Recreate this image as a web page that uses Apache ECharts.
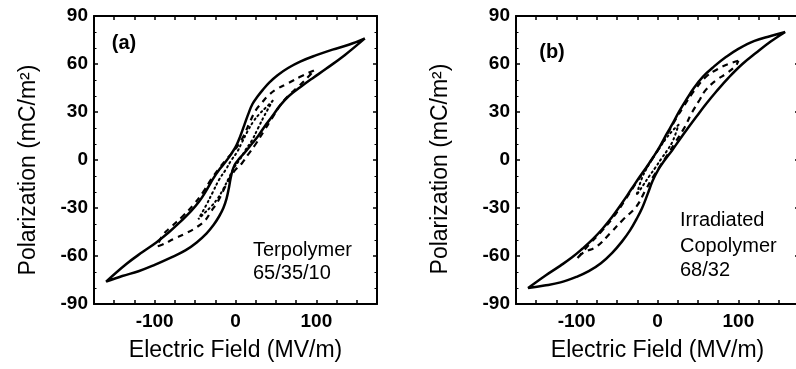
<!DOCTYPE html>
<html>
<head>
<meta charset="utf-8">
<script src="https://cdn.jsdelivr.net/npm/echarts@6/dist/echarts.min.js"></script>
<style>
html,body{margin:0;padding:0;background:#fff;}
#c{width:796px;height:369px;}
</style>
</head>
<body>
<div id="c"></div>
<script>
// ---------- data (Electric Field MV/m, Polarization mC/m^2) ----------
// Panel (a) Terpolymer 65/35/10
var aSolidDown = [[160,76],[140,72],[120,69],[100,65.5],[80,61.5],[65,57.5],[52,53],[42,48.5],[34,44],[27,39.5],[21,35],[16,29],[11,22],[6,15],[1,9],[-5,4],[-12,-1],[-20,-6],[-28,-12],[-36,-19],[-45,-26],[-55,-32],[-68,-38.5],[-82,-45],[-98,-51.5],[-115,-57.5],[-135,-65],[-160,-76]];
var aSolidUp = [[-160,-76],[-140,-72.5],[-120,-69.5],[-100,-65.5],[-80,-61],[-62,-56.5],[-48,-51.5],[-36,-46],[-27,-40.5],[-20,-35],[-15,-30],[-11,-24],[-8,-17],[-5,-9],[-1,-3],[5,1],[12,5],[20,10],[28,15],[36,21],[45,27],[55,34],[66,40],[80,45.5],[95,51],[112,57],[135,65.5],[160,76]];
var aDashDown = [[97,56],[80,52],[65,48],[50,44],[40,40],[33,36],[25,31],[18,24],[10,15],[3,9],[-5,4],[-12,0],[-20,-5],[-30,-12],[-40,-20],[-52,-28],[-65,-35],[-80,-42],[-90,-47],[-97,-54]];
var aDashUp = [[-97,-54],[-91,-53],[-75,-49],[-60,-45.5],[-48,-42],[-38,-38],[-30,-32],[-22,-26],[-15,-19],[-8,-12],[0,-6],[8,-2],[15,3],[25,10],[35,18],[45,26],[55,34],[65,40],[78,46],[90,52],[97,56]];
var aDotDown = [[46,37],[38,33],[30,29],[22,24],[15,18],[8,11],[2,5],[-5,0],[-12,-6],[-20,-12],[-28,-20],[-36,-28],[-46,-37]];
var aDotUp = [[-46,-37],[-38,-33],[-30,-29],[-22,-24],[-15,-18],[-8,-11],[-2,-5],[5,0],[12,6],[20,12],[28,20],[36,28],[46,37]];

// Panel (b) Irradiated Copolymer 68/32
var bSolidDown = [[158,80],[140,77.5],[120,74.5],[100,69.5],[85,64.5],[70,58.5],[56,52],[45,45],[36,38],[27,30.5],[19,23],[11,16],[3,8.5],[-5,2],[-13,-4],[-22,-10.5],[-32,-18],[-44,-27],[-56,-35.5],[-68,-43],[-80,-49.5],[-93,-55.5],[-106,-61],[-120,-66],[-138,-72],[-160,-80]];
var bSolidUp = [[-160,-80],[-140,-78.5],[-120,-76.5],[-100,-73],[-85,-69.5],[-70,-64.5],[-56,-58],[-44,-51],[-34,-44],[-26,-37],[-19,-30],[-12,-21],[-6,-13],[1,-6],[9,0],[18,6],[27,12.5],[37,19.5],[48,27],[60,35],[73,43],[88,51.5],[105,60],[122,67],[140,74],[158,80]];
var bDashDown = [[100,62],[88,60],[75,57],[60,52],[45,43],[33,34],[22,25],[12,16],[3,8],[-6,1],[-15,-6],[-26,-14],[-40,-25],[-55,-36],[-70,-45],[-85,-53],[-100,-62]];
var bDashUp = [[-100,-62],[-92,-58],[-75,-54],[-59,-46],[-43,-37.5],[-26,-29],[-15,-19],[-6,-11],[3,-4],[12,3],[22,11],[33,20],[43,30],[52,37.5],[60,44],[73,50],[85,54],[97,59],[100,62]];
var bDotDown = [[26,22],[18,18],[10,13],[3,8],[-5,2],[-12,-4],[-19,-11],[-26,-22]];
var bDotUp = [[-26,-22],[-18,-16],[-10,-10],[-3,-5],[5,1],[12,6],[19,12],[26,22]];

var xTicks = {min:-175, max:175, step:25, labelEvery:100};
var yTicks = {min:-90, max:90, step:30};
var xTitle = 'Electric Field (MV/m)';
var yTitle = 'Polarization (mC/m\u00B2)';
var panelLabels = ['(a)', '(b)'];
var noteA = ['Terpolymer', '65/35/10'];
var noteB = ['Irradiated', 'Copolymer', '68/32'];
// ---------------------------------------------------------------

function loop(down, up){ return down.concat(up.slice(1)); }

var FONT = '"Liberation Sans", Arial, Helvetica, sans-serif';
var chart = echarts.init(document.getElementById('c'), null, {renderer:'canvas'});

function xAxisCfg(grid, top){
  return {
    type:'value', gridIndex:grid, position: top ? 'top' : 'bottom',
    min:xTicks.min, max:xTicks.max, interval:xTicks.step,
    splitLine:{show:false},
    axisLine:{show:true, onZero:false, lineStyle:{color:'#000', width:2}},
    axisTick:{show:true, inside:true, length:4, lineStyle:{color:'#000', width:1.5}},
    axisLabel:{show:!top, margin:8, color:'#000', fontSize:19, fontWeight:'bold', fontFamily:FONT,
      formatter:function(v){ return (Math.round(v) % xTicks.labelEvery === 0) ? String(Math.round(v)) : ''; }},
    name: top ? '' : xTitle, nameLocation:'middle', nameGap:35,
    nameTextStyle:{color:'#000', fontSize:23, fontFamily:FONT}
  };
}
function yAxisCfg(grid, right){
  return {
    type:'value', gridIndex:grid, position: right ? 'right' : 'left',
    min:yTicks.min, max:yTicks.max, interval:yTicks.step,
    splitLine:{show:false},
    axisLine:{show:true, onZero:false, lineStyle:{color:'#000', width:2}},
    axisTick:{show:true, inside:true, length:4, lineStyle:{color:'#000', width:1.5}},
    minorTick:{show:true, splitNumber:3, length:2.5, lineStyle:{color:'#000', width:1}},
    axisLabel:{show:!right, margin:6, color:'#000', fontSize:19, fontWeight:'bold', fontFamily:FONT}
  };
}
function line(data, grid, kind){
  var ls = {color:'#000', width:2.5, type:'solid'};
  if (kind === 'dash') ls = {color:'#000', width:2.2, type:[6,5]};
  if (kind === 'dot') ls = {color:'#000', width:2, type:[1.5,3.5], cap:'round'};
  return {type:'line', xAxisIndex:grid, yAxisIndex:grid, data:data, showSymbol:false, symbol:'none',
    smooth:0.4, lineStyle:ls, silent:true, animation:false, clip:false};
}

var option = {
  backgroundColor:'#fff',
  animation:false,
  grid:[
    {left:94, top:16, width:283, height:288, outerBoundsMode:'none', containLabel:false, show:false},
    {left:516, top:16, width:283, height:288, outerBoundsMode:'none', containLabel:false, show:false}
  ],
  xAxis:[xAxisCfg(0,false), xAxisCfg(1,false), xAxisCfg(0,true), xAxisCfg(1,true)],
  yAxis:[yAxisCfg(0,false), yAxisCfg(1,false), yAxisCfg(0,true), yAxisCfg(1,true)],
  series:[
    line(loop(aSolidDown, aSolidUp), 0, 'solid'),
    line(loop(aDashDown, aDashUp), 0, 'dash'),
    line(loop(aDotDown, aDotUp), 0, 'dot'),
    line(loop(bSolidDown, bSolidUp), 1, 'solid'),
    line(loop(bDashDown, bDashUp), 1, 'dash'),
    line(loop(bDotDown, bDotUp), 1, 'dot')
  ],
  graphic:[
    {type:'text', x:29, y:170, rotation:Math.PI/2, style:{text:yTitle, fill:'#000', font:'23px '+FONT, align:'center', verticalAlign:'middle'}},
    {type:'text', x:441, y:169, rotation:Math.PI/2, style:{text:yTitle, fill:'#000', font:'23px '+FONT, align:'center', verticalAlign:'middle'}},
    {type:'text', x:124, y:43, style:{text:panelLabels[0], fill:'#000', font:'bold 20px '+FONT, align:'center', verticalAlign:'middle'}},
    {type:'text', x:552, y:52, style:{text:panelLabels[1], fill:'#000', font:'bold 20px '+FONT, align:'center', verticalAlign:'middle'}},
    {type:'text', x:253, y:250, style:{text:noteA[0], fill:'#000', font:'20px '+FONT, align:'left', verticalAlign:'middle'}},
    {type:'text', x:253, y:273, style:{text:noteA[1], fill:'#000', font:'20px '+FONT, align:'left', verticalAlign:'middle'}},
    {type:'text', x:680, y:220, style:{text:noteB[0], fill:'#000', font:'20px '+FONT, align:'left', verticalAlign:'middle'}},
    {type:'text', x:680, y:246, style:{text:noteB[1], fill:'#000', font:'20px '+FONT, align:'left', verticalAlign:'middle'}},
    {type:'text', x:680, y:270, style:{text:noteB[2], fill:'#000', font:'20px '+FONT, align:'left', verticalAlign:'middle'}}
  ]
};
chart.setOption(option);
</script>
</body>
</html>
